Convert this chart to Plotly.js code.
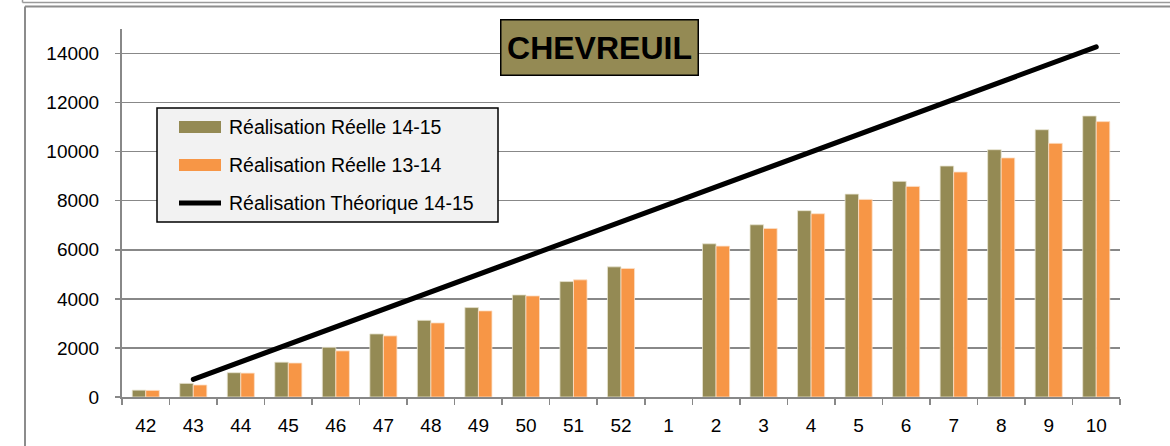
<!DOCTYPE html>
<html>
<head>
<meta charset="utf-8">
<script src="https://cdn.plot.ly/plotly-3.0.1.min.js"></script>
<style>
html,body{margin:0;padding:0;background:#fff;}
#chart{width:1170px;height:446px;}
#chart .js-line{stroke-linecap:round;}
</style>
</head>
<body>
<div id="chart"></div>
<script>
// ---- data ----
var weeks = ['42','43','44','45','46','47','48','49','50','51','52','1','2','3','4','5','6','7','8','9','10'];
var reel1415 = [280, 555, 990, 1420, 2025, 2570, 3125, 3645, 4160, 4705, 5305, null, 6245, 7020, 7595, 8270, 8790, 9415, 10080, 10895, 11455];
var reel1314 = [270, 490, 975, 1385, 1880, 2490, 3020, 3510, 4120, 4775, 5240, null, 6150, 6870, 7470, 8055, 8585, 9170, 9745, 10340, 11225];
var theorique1415 = [null, 720, null, null, null, null, null, null, null, null, null, null, null, null, null, null, null, null, null, null, 14270];
var seriesNames = ['Réalisation Réelle 14-15', 'Réalisation Réelle 13-14', 'Réalisation Théorique 14-15'];
var chartTitle = 'CHEVREUIL';
var yTicks = [0, 2000, 4000, 6000, 8000, 10000, 12000, 14000];

// ---- style ----
var OLIVE = '#948A54', ORANGE = '#F79646', GRID = '#888888', FONT = 'Liberation Sans, Arial, sans-serif';
var W = 1170, H = 446, ML = 122, MR = 50, MT = 29, MB = 49;
var PW = W - ML - MR, PH = H - MT - MB;
function px(x){ return (x - ML) / PW; }
function py(y){ return (H - MB - y) / PH; }

var traces = [
  {type:'bar', x:weeks, y:reel1415, name:seriesNames[0], marker:{color:OLIVE, line:{color:'#e8e4d2', width:0.8}}, showlegend:false},
  {type:'bar', x:weeks, y:reel1314, name:seriesNames[1], marker:{color:ORANGE, line:{color:'#fbe0c8', width:0.8}}, showlegend:false},
  {type:'scatter', mode:'lines', x:weeks, y:theorique1415, name:seriesNames[2], connectgaps:true,
   line:{color:'#000', width:5}, showlegend:false}
];

var gray = {color:'#8c8c8c', width:2};
var shapes = [
  // outer frames
  {type:'line', xref:'paper', yref:'paper', x0:px(22.5), x1:px(1172), y0:py(2.5), y1:py(2.5), line:{color:'#9a9a9a', width:1.5}},
  {type:'line', xref:'paper', yref:'paper', x0:px(22.5), x1:px(22.5), y0:py(-2), y1:py(2.5), line:{color:'#9a9a9a', width:1.5}},
  {type:'line', xref:'paper', yref:'paper', x0:px(25), x1:px(1172), y0:py(6.5), y1:py(6.5), line:gray},
  {type:'line', xref:'paper', yref:'paper', x0:px(25), x1:px(25), y0:py(6.5), y1:py(448), line:gray},
  // legend box
  {type:'rect', xref:'paper', yref:'paper', x0:px(157), x1:px(498), y0:py(108), y1:py(222), fillcolor:'#f2f2f2', line:{color:'#000', width:1.5}},
  {type:'rect', xref:'paper', yref:'paper', x0:px(179), x1:px(221), y0:py(121), y1:py(133), fillcolor:OLIVE, line:{width:0}},
  {type:'rect', xref:'paper', yref:'paper', x0:px(179), x1:px(221), y0:py(159), y1:py(171), fillcolor:ORANGE, line:{width:0}},
  {type:'line', xref:'paper', yref:'paper', x0:px(179), x1:px(221), y0:py(203), y1:py(203), line:{color:'#000', width:5}}
];

var annotations = [
  {xref:'paper', yref:'paper', x:px(227), y:py(127), xanchor:'left', yanchor:'middle', showarrow:false, text:seriesNames[0], font:{family:FONT, size:19.5, color:'#000'}},
  {xref:'paper', yref:'paper', x:px(227), y:py(165), xanchor:'left', yanchor:'middle', showarrow:false, text:seriesNames[1], font:{family:FONT, size:19.5, color:'#000'}},
  {xref:'paper', yref:'paper', x:px(227), y:py(203), xanchor:'left', yanchor:'middle', showarrow:false, text:seriesNames[2], font:{family:FONT, size:19.5, color:'#000'}},
  {xref:'paper', yref:'paper', x:px(599), y:py(47), xanchor:'center', yanchor:'middle', showarrow:false,
   text:'<b>' + chartTitle + '</b>', font:{family:FONT, size:32, color:'#000'},
   bgcolor:OLIVE, bordercolor:'#000', borderwidth:1.5, borderpad:2, width:192, height:50}
];

var layout = {
  width:W, height:H,
  margin:{l:ML, r:MR, t:MT, b:MB, pad:0},
  paper_bgcolor:'#fff', plot_bgcolor:'#fff',
  barmode:'group', bargap:0.43, bargroupgap:0,
  font:{family:FONT, size:19, color:'#000'},
  xaxis:{type:'category', categoryorder:'array', categoryarray:weeks,
         showline:true, linecolor:GRID, linewidth:2, ticks:'outside', tickson:'boundaries',
         ticklen:6, tickcolor:GRID, tickwidth:1.5, showgrid:false, zeroline:false,
         ticklabelstandoff:10, tickfont:{family:FONT, size:19, color:'#000'}, fixedrange:true},
  yaxis:{range:[0,15000], tickvals:yTicks, ticktext:yTicks.map(String),
         showline:true, linecolor:GRID, linewidth:2, ticks:'outside', ticklen:5, tickcolor:GRID, tickwidth:1.5,
         showgrid:true, gridcolor:GRID, gridwidth:1.5, zeroline:false,
         ticklabelstandoff:12, tickfont:{family:FONT, size:19, color:'#000'}, fixedrange:true},
  shapes:shapes,
  annotations:annotations,
  showlegend:false
};

Plotly.newPlot('chart', traces, layout, {displayModeBar:false, staticPlot:true});
</script>
</body>
</html>
